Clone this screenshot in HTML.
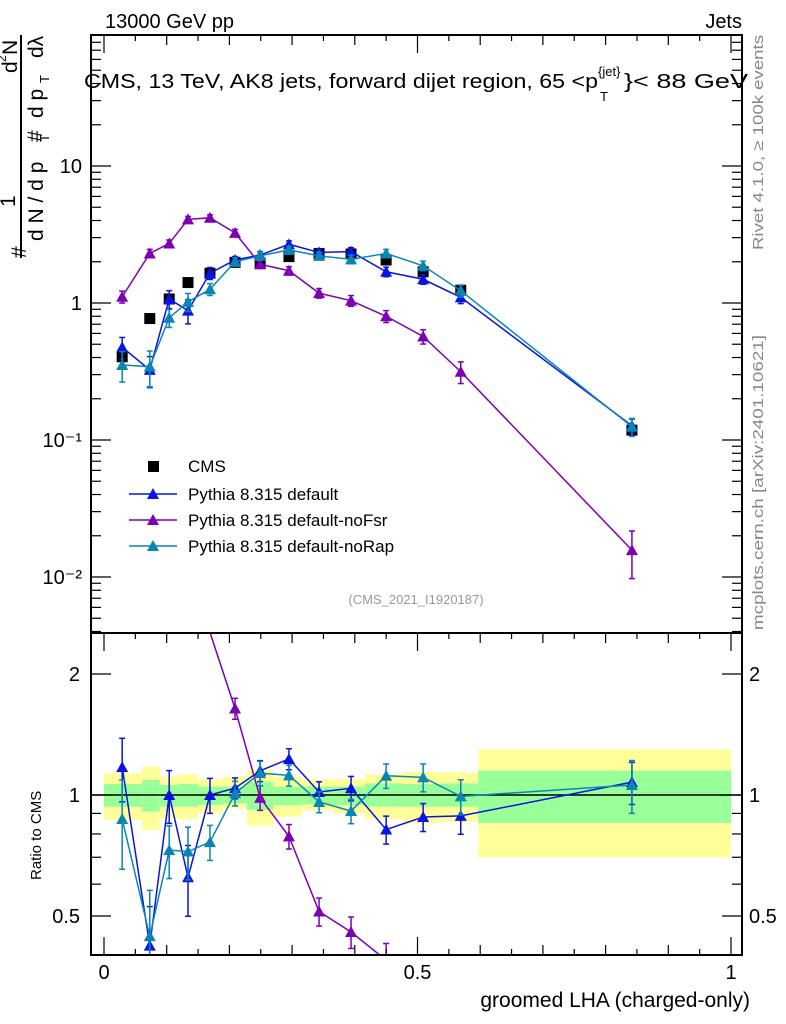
<!DOCTYPE html>
<html><head><meta charset="utf-8"><style>
html,body{margin:0;padding:0;background:#fff;overflow:hidden;width:786px;height:1024px}
svg{display:block;font-family:"Liberation Sans",sans-serif}
</style></head><body>
<svg id="c" width="786" height="1024" viewBox="0 0 786 1024" xmlns="http://www.w3.org/2000/svg">
<defs>
<clipPath id="cm"><rect x="91" y="35" width="651" height="598"/></clipPath>
<clipPath id="cr"><rect x="91" y="634" width="651" height="321"/></clipPath>
</defs>
<g id="bands" clip-path="url(#cr)"></g>
<g id="marks"></g>
<g id="axes"></g>
<text x="105" y="28" font-size="20">13000 GeV pp</text>
<text x="742" y="28" font-size="20" text-anchor="end">Jets</text>
<g font-size="20">
<text x="84" y="88" textLength="514" lengthAdjust="spacingAndGlyphs">CMS, 13 TeV, AK8 jets, forward dijet region, 65 &lt;p</text>
<text x="598" y="76" font-size="13">{jet}</text>
<text x="600" y="101" font-size="13">T</text>
<text x="624" y="88" textLength="124" lengthAdjust="spacingAndGlyphs">}&lt; 88 GeV</text>
</g>
<g font-size="21">
<line x1="21" y1="35" x2="21" y2="258" stroke="#000" stroke-width="2"/>
<text transform="translate(26,258) rotate(-90)">#</text>
<text transform="translate(15,207) rotate(-90)">1</text>
<text transform="translate(43,241) rotate(-90)">d N / d p</text>
<text transform="translate(49,142) rotate(-90)" font-size="13">T</text>
<text transform="translate(42,142) rotate(-90)">#</text>
<text transform="translate(17,73) rotate(-90)">d</text>
<text transform="translate(6,62) rotate(-90)" font-size="12">2</text>
<text transform="translate(17,55) rotate(-90)">N</text>
<text transform="translate(43,118) rotate(-90)">d p</text>
<text transform="translate(49,83) rotate(-90)" font-size="13">T</text>
<text transform="translate(43,58) rotate(-90)">dλ</text>
</g>
<text transform="translate(41,880) rotate(-90)" font-size="15">Ratio to CMS</text>
<text x="750" y="1007" font-size="21" text-anchor="end">groomed LHA (charged-only)</text>
<text transform="translate(763,250) rotate(-90)" font-size="15" fill="#888" textLength="215" lengthAdjust="spacingAndGlyphs">Rivet 4.1.0, ≥ 100k events</text>
<text transform="translate(763,630) rotate(-90)" font-size="15" fill="#888" textLength="295" lengthAdjust="spacingAndGlyphs">mcplots.cern.ch [arXiv:2401.10621]</text>
<text x="416" y="604" font-size="13" fill="#999" text-anchor="middle">(CMS_2021_I1920187)</text>
<g id="legend" font-size="17"></g>
</svg>
<script>
const xVals=[0.029,0.073,0.104,0.134,0.169,0.209,0.249,0.295,0.343,0.394,0.450,0.509,0.569,0.842];
const cmsVals=[0.405,0.77,1.07,1.41,1.65,1.98,1.95,2.18,2.30,2.28,2.06,1.69,1.24,0.118];
const defVals=[0.475,0.325,1.07,0.88,1.65,2.06,2.24,2.68,2.34,2.37,1.69,1.49,1.10,0.127];
const noFsrVals=[1.11,2.30,2.72,4.08,4.19,3.25,1.92,1.72,1.18,1.04,0.80,0.57,0.315,0.0157];
const noRapVals=[0.353,0.343,0.78,1.02,1.26,2.00,2.21,2.44,2.21,2.08,2.30,1.87,1.23,0.125];
const defErr=[0.18,0.25,0.15,0.2,0.1,0.06,0.06,0.06,0.06,0.07,0.08,0.08,0.1,0.12];
const noFsrErr=[0.1,0.07,0.06,0.05,0.05,0.06,0.07,0.07,0.08,0.09,0.1,0.12,0.18,0.38];
const noRapErr=[0.25,0.3,0.15,0.15,0.1,0.07,0.07,0.06,0.06,0.07,0.07,0.08,0.1,0.15];
const binEdges=[0,0.061,0.089,0.118,0.150,0.190,0.228,0.270,0.316,0.364,0.416,0.477,0.537,0.597,1.0];
const yellowHi=[1.132,1.176,1.115,1.126,1.094,1.110,1.154,1.110,1.094,1.094,1.126,1.143,1.139,1.299];
const yellowLo=[0.866,0.818,0.875,0.871,0.900,0.927,0.839,0.883,0.918,0.900,0.871,0.850,0.858,0.700];
const greenHi=[1.065,1.090,1.059,1.065,1.049,1.049,1.079,1.049,1.049,1.049,1.069,1.065,1.069,1.150];
const greenLo=[0.935,0.909,0.935,0.935,0.944,0.953,0.918,0.944,0.948,0.944,0.935,0.935,0.935,0.852];
const mainTicks=["10","1","10⁻¹","10⁻²"];
const ratioTicks=["2","1","0.5"];
const xTicks=["0","0.5","1"];

const NS="http://www.w3.org/2000/svg";
function mk(tag,attrs,parent){const e=document.createElementNS(NS,tag);for(const k in attrs)e.setAttribute(k,attrs[k]);parent.appendChild(e);return e;}
const X=v=>104+v*627;
const Ym=v=>303-137*Math.log10(v);
const Yr=v=>795-121*Math.log2(v);
const L=91,R=742,T=35,M=633,B=955;

const bands=document.getElementById('bands');
for(let i=0;i<yellowHi.length;i++){
  const x0=X(binEdges[i]),x1=X(binEdges[i+1]);
  const y=mk('rect',{x:x0,y:Yr(yellowHi[i]),width:x1-x0,height:Yr(yellowLo[i])-Yr(yellowHi[i]),fill:'#ffff99'},bands);
  
  
  const g=mk('rect',{x:x0,y:Yr(greenHi[i]),width:x1-x0,height:Yr(greenLo[i])-Yr(greenHi[i]),fill:'#99ff99'},bands);
  
  
}
mk('line',{x1:L,x2:R,y1:Yr(1),y2:Yr(1),stroke:'#000','stroke-width':1.5},bands);

const marks=document.getElementById('marks');
const gm=mk('g',{'clip-path':'url(#cm)'},marks);
const gr=mk('g',{'clip-path':'url(#cr)'},marks);
function tri(g,x,y,c){return mk('polygon',{points:`${x-6},${y+5} ${x+6},${y+5} ${x},${y-6}`,fill:c},g);}
function errbar(g,x,y1,y2,c){
  mk('line',{x1:x,x2:x,y1:y1,y2:y2,stroke:c,'stroke-width':1.5},g);
  mk('line',{x1:x-3,x2:x+3,y1:y1,y2:y1,stroke:c,'stroke-width':1.5},g);
  mk('line',{x1:x-3,x2:x+3,y1:y2,y2:y2,stroke:c,'stroke-width':1.5},g);
}
const series=[
  {name:'default',vals:defVals,err:defErr,c:'#0a14e0'},
  {name:'noFsr',vals:noFsrVals,err:noFsrErr,c:'#7d00b4'},
  {name:'noRap',vals:noRapVals,err:noRapErr,c:'#0a86b4'}
];
const cg=mk('g',{},gm);


cmsVals.forEach((v,i)=>{
  const r=mk('rect',{x:X(xVals[i])-5.5,y:Ym(v)-5.5,width:11,height:11,fill:'#000'},cg);
  
  
});
series.forEach(s=>{
  const g=mk('g',{},gm);
  
  
  mk('polyline',{points:s.vals.map((v,i)=>X(xVals[i])+','+Ym(v)).join(' '),fill:'none',stroke:s.c,'stroke-width':1.5},g);
  s.vals.forEach((v,i)=>{
    errbar(g,X(xVals[i]),Ym(v*(1+s.err[i])),Ym(v*(1-s.err[i])),s.c);
    const p=tri(g,X(xVals[i]),Ym(v),s.c);
    
    
  });
  const rg=mk('g',{},gr);
  
  
  const rat=s.vals.map((v,i)=>v/cmsVals[i]);
  mk('polyline',{points:rat.map((v,i)=>X(xVals[i])+','+Yr(v)).join(' '),fill:'none',stroke:s.c,'stroke-width':1.5},rg);
  rat.forEach((v,i)=>{
    if(Yr(v)<M+2)return;
    errbar(rg,X(xVals[i]),Yr(v*(1+s.err[i])),Yr(v*(1-s.err[i])),s.c);
    const p=tri(rg,X(xVals[i]),Yr(v),s.c);
    
    
  });
});

const ax=document.getElementById('axes');


mk('rect',{x:L,y:T,width:R-L,height:M-T,fill:'none',stroke:'#000','stroke-width':2},ax);
mk('rect',{x:L,y:M,width:R-L,height:B-M,fill:'none',stroke:'#000','stroke-width':2},ax);
function hl(x1,x2,y){mk('line',{x1:x1,x2:x2,y1:y,y2:y,stroke:'#000','stroke-width':1.2},ax);}
function vl(x,y1,y2){mk('line',{x1:x,x2:x,y1:y1,y2:y2,stroke:'#000','stroke-width':1.2},ax);}
for(let d=-3;d<=1;d++){for(let m=1;m<10;m++){const v=m*Math.pow(10,d);const y=Ym(v);if(y<T||y>M)continue;const len=m===1?20:10;hl(L,L+len,y);hl(R-len,R,y);}}
for(let d=-2;d<=1;d++){for(let m=1;m<10;m++){const v=m*Math.pow(10,d);const y=Yr(v);if(y<M+1||y>B)continue;const major=(v===1||v===2||v===0.5);const len=major?20:10;hl(L,L+len,y);hl(R-len,R,y);}}
for(let k=0;k<=20;k++){const v=k*0.05;const x=X(v);const len=k%10===0?18:(k%2===0?10:6);vl(x,B-len,B);vl(x,M,M+len);vl(x,T,T+len);}
const mtv=[10,1,0.1,0.01];
mainTicks.forEach((t,i)=>{const e=mk('text',{x:82,y:Ym(mtv[i])+7,'font-size':20,'text-anchor':'end'},ax);e.textContent=t;
  });
const rtv=[2,1,0.5];
ratioTicks.forEach((t,i)=>{
  const e=mk('text',{x:80,y:Yr(rtv[i])+7,'font-size':20,'text-anchor':'end'},ax);e.textContent=t;
  
  const f=mk('text',{x:749,y:Yr(rtv[i])+7,'font-size':20},ax);f.textContent=t;
  
});
const xtv=[0,0.5,1];
xTicks.forEach((t,i)=>{const e=mk('text',{x:X(xtv[i]),y:979,'font-size':20,'text-anchor':'middle'},ax);e.textContent=t;
  });

const lg=document.getElementById('legend');
const ls=mk('rect',{x:148,y:461,width:11,height:11,fill:'#000'},lg);


const lt=mk('text',{x:188,y:472},lg);lt.textContent='CMS';

const names=['Pythia 8.315 default','Pythia 8.315 default-noFsr','Pythia 8.315 default-noRap'];
series.forEach((s,i)=>{
  const y=494+i*26;
  mk('line',{x1:129,x2:177,y1:y,y2:y,stroke:s.c,'stroke-width':1.5},lg);
  const p=tri(lg,153,y,s.c);
  
  
  const t=mk('text',{x:188,y:y+6},lg);t.textContent=names[i];
  
  
});
</script>
</body></html>
